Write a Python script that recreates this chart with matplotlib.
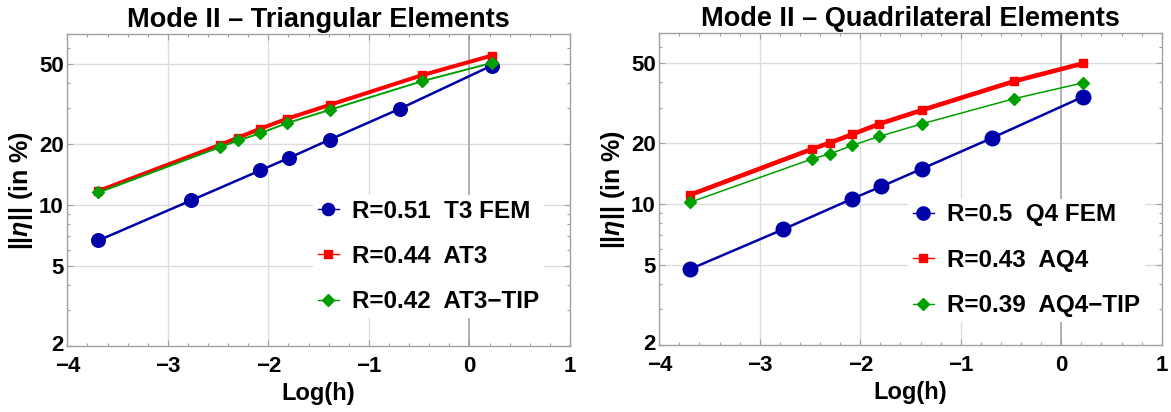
import matplotlib
matplotlib.use("Agg")
import matplotlib.pyplot as plt
from matplotlib.ticker import FixedLocator, FixedFormatter, NullFormatter
from matplotlib.lines import Line2D
from matplotlib.transforms import ScaledTranslation

plt.rcParams["font.family"] = ["Liberation Sans", "DejaVu Sans"]
plt.rcParams["font.weight"] = "bold"
plt.rcParams["mathtext.fontset"] = "custom"
plt.rcParams["mathtext.it"] = "Liberation Sans:italic:bold"
plt.rcParams["mathtext.rm"] = "Liberation Sans:bold"
plt.rcParams["mathtext.bf"] = "Liberation Sans:bold"

# ---- data: error norm (%) versus log of mesh size h ----
log_h_std = [-3.69, -2.77, -2.08, -1.79, -1.39, -0.69, 0.22]
log_h_enr = [-3.69, -2.48, -2.30, -2.08, -1.81, -1.39, -0.47, 0.22]

tri_fem = [6.66, 10.5, 14.8, 17.1, 21.0, 29.9, 48.8]
tri_at3 = [11.7, 19.8, 21.5, 23.8, 26.7, 31.2, 43.8, 54.7]
tri_at3_tip = [11.5, 19.3, 20.8, 22.6, 25.4, 29.5, 40.9, 50.3]

quad_fem = [4.76, 7.47, 10.6, 12.2, 14.9, 21.2, 34.0]
quad_aq4 = [11.1, 18.7, 20.1, 22.1, 24.9, 29.1, 40.5, 49.7]
quad_aq4_tip = [10.2, 16.7, 17.7, 19.5, 21.6, 24.9, 33.2, 39.8]

tri_labels = ["R=0.51  T3 FEM", "R=0.44  AT3", "R=0.42  AT3\u2212TIP"]
quad_labels = ["R=0.5  Q4 FEM", "R=0.43  AQ4", "R=0.39  AQ4\u2212TIP"]

titles = ["Mode II \u2013 Triangular Elements", "Mode II \u2013 Quadrilateral Elements"]

x_ticks = [-4, -3, -2, -1, 0, 1]
y_ticks = [2, 5, 10, 20, 50]
y_minor = [3, 4, 6, 7, 8, 9, 30, 40, 60, 70]
x_minor = [round(-4 + 0.2 * i, 1) for i in range(26)]

BLUE = "#0000a8"
RED = "#ff0000"
GREEN = "#00a000"
GRID = "#dcdcdc"
FRAME = "#a0a0a0"

fig = plt.figure(figsize=(11.71, 4.12), dpi=100)

axes_rects = [
    [67.3 / 1171, 66 / 412, (570 - 67.3) / 1171, 312 / 412],
    [659.3 / 1171, 67 / 412, (1161.7 - 659.3) / 1171, 311.7 / 412],
]

panels = [
    dict(title=titles[0], fem=tri_fem, enr=tri_at3, tip=tri_at3_tip,
         labels=tri_labels, lw_red=2.9, lw_green=1.4, ms_circ=9.8,
         anchor=(0.489, 0.485)),
    dict(title=titles[1], fem=quad_fem, enr=quad_aq4, tip=quad_aq4_tip,
         labels=quad_labels, lw_red=3.3, lw_green=1.1, ms_circ=10.5,
         anchor=(0.495, 0.470)),
]

TICK_SIZE = 16

for rect, p in zip(axes_rects, panels):
    ax = fig.add_axes(rect)
    ax.set_yscale("log")
    ax.set_xlim(-4, 1)
    ax.set_ylim(2, 70)

    ax.plot(log_h_std, p["fem"], color=BLUE, lw=1.8, marker="o",
            ms=p["ms_circ"], mec=BLUE, mfc=BLUE, zorder=3)
    ax.plot(log_h_enr, p["enr"], color=RED, lw=p["lw_red"], marker="s",
            ms=6.2, mec=RED, mfc=RED, zorder=4)
    ax.plot(log_h_enr, p["tip"], color=GREEN, lw=p["lw_green"], marker="D",
            ms=5.8, mec=GREEN, mfc=GREEN, zorder=5)

    # ticks; the bottom "2" is placed by hand so it sits just above "-4"
    ax.xaxis.set_major_locator(FixedLocator(x_ticks))
    ax.xaxis.set_minor_locator(FixedLocator(x_minor))
    ax.yaxis.set_major_locator(FixedLocator(y_ticks))
    ax.yaxis.set_major_formatter(
        FixedFormatter(["" if v == y_ticks[0] else str(v) for v in y_ticks]))
    ax.yaxis.set_minor_locator(FixedLocator(y_minor))
    ax.yaxis.set_minor_formatter(NullFormatter())
    ax.tick_params(which="both", direction="in", top=True, right=True,
                   color=FRAME, width=0.8)
    ax.tick_params(which="major", length=4.5, labelsize=TICK_SIZE, pad=2.5)
    ax.tick_params(which="minor", length=2.5)
    ax.tick_params(axis="x", which="major", pad=7)

    bottom_label_tr = ax.get_yaxis_transform() + ScaledTranslation(
        -2.5 / 72, -0.05, fig.dpi_scale_trans)
    ax.text(0, y_ticks[0], str(y_ticks[0]), transform=bottom_label_tr,
            ha="right", va="baseline", fontsize=TICK_SIZE, fontweight="bold")

    # grid and the x = 0 axis line
    for xv in [-3, -2, -1]:
        ax.axvline(xv, color=GRID, lw=1.0, zorder=0)
    for yv in [5, 10, 20, 50]:
        ax.axhline(yv, color=GRID, lw=1.0, zorder=0)
    ax.axvline(0, color="#b0b0b0", lw=1.4, zorder=1)

    for sp in ax.spines.values():
        sp.set_color(FRAME)
        sp.set_linewidth(1.0)

    ax.set_title(p["title"], fontsize=19.5, fontweight="bold", pad=5.3)
    ax.set_xlabel("Log(h)", fontsize=17, fontweight="bold")
    ax.xaxis.set_label_coords(0.5, -0.115)
    ax.set_ylabel(r"||$\eta$|| (in %)", fontsize=18, fontweight="bold")
    ax.yaxis.set_label_coords(-0.064, 0.5)

    handles = [
        Line2D([0], [0], color=BLUE, lw=1.0, marker="o", ms=p["ms_circ"] - 1,
               mec=BLUE, mfc=BLUE),
        Line2D([0], [0], color=RED, lw=1.0, marker="s", ms=5.5,
               mec=RED, mfc=RED),
        Line2D([0], [0], color=GREEN, lw=1.0, marker="D", ms=5.8,
               mec=GREEN, mfc=GREEN),
    ]
    leg = ax.legend(handles, p["labels"], loc="upper left",
                    bbox_to_anchor=p["anchor"],
                    handlelength=0.85, handletextpad=0.55, labelspacing=0.92,
                    borderpad=0.2, borderaxespad=0, frameon=True,
                    fancybox=False, edgecolor="none", facecolor="white",
                    framealpha=1.0, prop={"weight": "bold", "size": 17.5})
    leg.set_zorder(6)

fig.savefig("out.png", dpi=100)
